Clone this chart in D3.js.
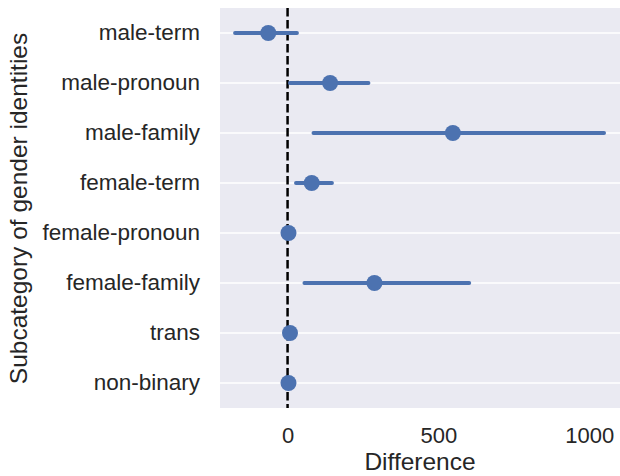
<!DOCTYPE html>
<html>
<head>
<meta charset="utf-8">
<script src="https://cdn.jsdelivr.net/npm/d3@7"></script>
<style>
  body { margin: 0; background: #fff; }
  text { font-family: "Liberation Sans", Arial, sans-serif; fill: #262626; }
</style>
</head>
<body>
<script>
// categories, top to bottom
var categories = ["male-term", "male-pronoun", "male-family", "female-term",
                  "female-pronoun", "female-family", "trans", "non-binary"];

// mean difference per category
var means = [-64, 141, 548, 80, 3, 288, 8, 3];

// confidence interval ends
var ciLow  = [-174, 8, 86, 28, 0, 56, 4, 0];
var ciHigh = [31, 268, 1049, 147, 6, 602, 12, 6];

var xTicks = [0, 500, 1000];

var w = 620, h = 476;
var padL = 220, padR = 620, padT = 8, padB = 408; // plot area edges

var svg = d3.select("body").append("svg")
    .attr("width", w)
    .attr("height", h);

var x = d3.scaleLinear()
    .domain([-224, 1102])
    .range([padL, padR]);

var y = d3.scaleBand()
    .domain(categories)
    .range([padT, padB]);

function cy(d){ return y(d) + y.bandwidth() / 2; }

// background
svg.append("rect")
    .attr("x", padL).attr("y", padT)
    .attr("width", padR - padL).attr("height", padB - padT)
    .attr("fill", "#EAEAF2");

// horizontal grid lines
svg.selectAll("line.grid")
    .data(categories)
    .enter().append("line")
    .attr("class", "grid")
    .attr("x1", padL).attr("x2", padR)
    .attr("y1", cy)
    .attr("y2", cy)
    .attr("stroke", "#fff")
    .attr("stroke-width", 1.6);

// zero reference line
svg.append("line")
    .attr("x1", x(0)).attr("x2", x(0))
    .attr("y1", padT).attr("y2", padB)
    .attr("stroke", "#000")
    .attr("stroke-width", 2.5)
    .attr("stroke-dasharray", "8.5,3.5");

// error bars
svg.selectAll("line.ci")
    .data(categories)
    .enter().append("line")
    .attr("class", "ci")
    .attr("x1", function(d, i){ return x(ciLow[i]); })
    .attr("x2", function(d, i){ return x(ciHigh[i]); })
    .attr("y1", cy)
    .attr("y2", cy)
    .attr("stroke", "#4C72B0")
    .attr("stroke-width", 4)
    .attr("stroke-linecap", "round");

// points
svg.selectAll("circle")
    .data(categories)
    .enter().append("circle")
    .attr("cx", function(d, i){ return x(means[i]); })
    .attr("cy", cy)
    .attr("r", 8)
    .attr("fill", "#4C72B0");

// axes
var xAxis = d3.axisBottom(x).tickValues(xTicks).tickFormat(d3.format("d"))
    .tickSize(0).tickPadding(19);
var gx = svg.append("g")
    .attr("transform", "translate(0," + padB + ")")
    .call(xAxis);
gx.select(".domain").remove();
gx.selectAll("text").style("font-size", "22px").attr("fill", "#262626");

var yAxis = d3.axisLeft(y).tickSize(0).tickPadding(20);
var gy = svg.append("g")
    .attr("transform", "translate(" + padL + ",0)")
    .call(yAxis);
gy.select(".domain").remove();
gy.selectAll("text").style("font-size", "22.5px").attr("fill", "#262626");

// axis labels
svg.append("text")
    .text("Difference")
    .attr("x", (padL + padR) / 2)
    .attr("y", 470)
    .attr("text-anchor", "middle")
    .style("font-size", "24.5px");

svg.append("text")
    .text("Subcategory of gender identities")
    .attr("transform", "translate(27," + (padT + padB + 1) / 2 + ") rotate(-90)")
    .attr("text-anchor", "middle")
    .style("font-size", "24.5px");
</script>
</body>
</html>
